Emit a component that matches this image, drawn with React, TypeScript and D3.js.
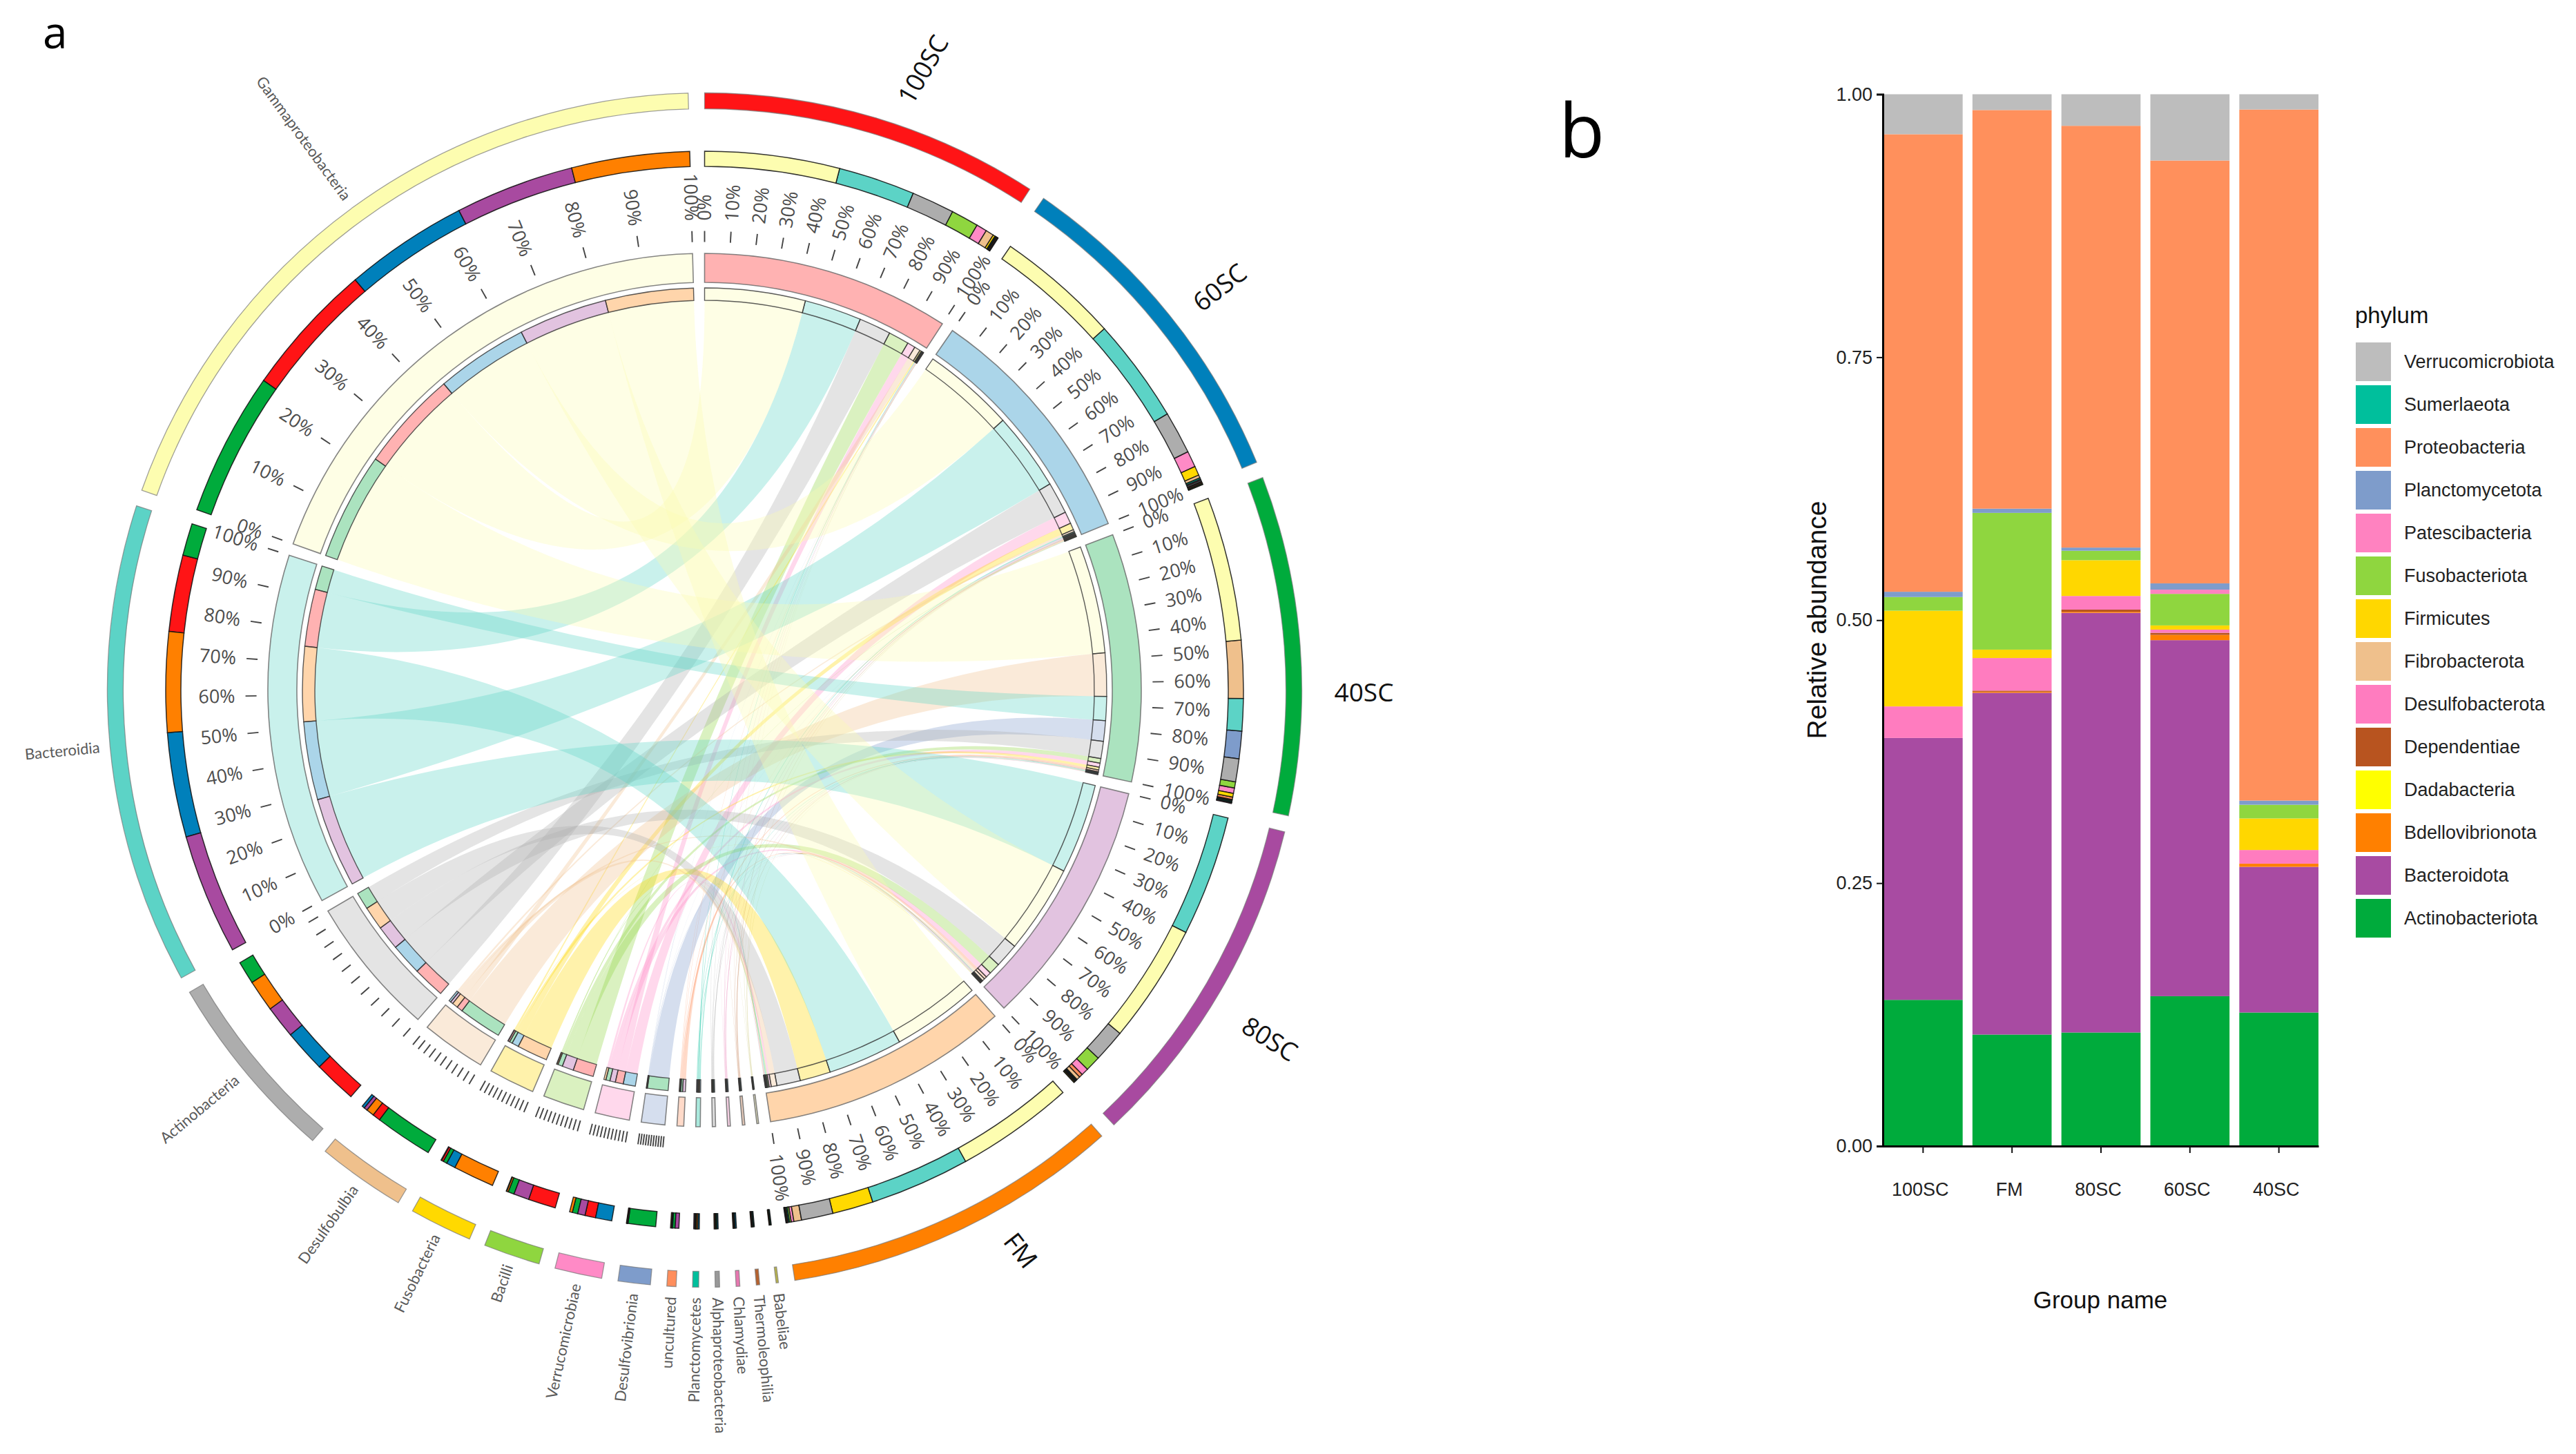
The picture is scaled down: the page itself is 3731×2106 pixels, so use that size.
import React, { useEffect, useRef } from 'react';
import * as d3 from 'd3';

// --- panel a: samples and classes, clockwise from the top
const samples = ['100SC', '60SC', '40SC', '80SC', 'FM'];
const sampleColors = ['#ff1416', '#0080bb', '#00ab3c', '#a84aa0', '#ff8000'];

const classes = [
  'Babeliae', 'Thermoleophilia', 'Chlamydiae', 'Alphaproteobacteria', 'Planctomycetes',
  'uncultured', 'Desulfovibrionia', 'Verrucomicrobiae', 'Bacilli', 'Fusobacteria',
  'Desulfobulbia', 'Actinobacteria', 'Bacteroidia', 'Gammaproteobacteria',
];
const classColors = [
  '#b8b34d', '#b5622f', '#e777b0', '#999999', '#00bf9c',
  '#ff8e5c', '#7e9ccb', '#ff8ac6', '#8fd63f', '#ffd900',
  '#efc08c', '#adadad', '#5cd3c6', '#fdfdb0',
];

// percent of each sample going to each class, same order as classes
const links100SC = [0.1, 0.1, 0.2, 0.2, 0.3, 0.2, 0.1, 3.5, 9.0, 0.7, 2.6, 14.0, 25.0, 44.0];
const links60SC = [0.2, 0.3, 0.4, 0.4, 0.5, 0.3, 0.1, 5.3, 0.2, 3.0, 0.9, 13.9, 34.2, 40.3];
const links40SC = [0.2, 0.3, 0.2, 0.3, 0.3, 0.8, 9.0, 1.8, 2.0, 1.2, 18.9, 7.5, 10.5, 47.0];
const links80SC = [0.1, 0.2, 0.2, 0.2, 0.3, 1.2, 0.2, 2.4, 5.0, 0.2, 1.1, 10.6, 39.4, 38.9];
const linksFM = [0.1, 0.1, 0.1, 0.2, 0.4, 0.2, 0.1, 0.9, 0.5, 13.4, 2.5, 10.3, 32.7, 38.5];
const sampleLinks = [links100SC, links60SC, links40SC, links80SC, linksFM];

const labelledClasses = ['Bacteroidia', 'Gammaproteobacteria'];
const tickedClasses = ['Desulfovibrionia', 'Verrucomicrobiae', 'Bacilli', 'Fusobacteria', 'Desulfobulbia', 'Actinobacteria', 'Bacteroidia', 'Gammaproteobacteria'];
const percentTicks = [0, 10, 20, 30, 40, 50, 60, 70, 80, 90, 100];

// --- panel b: stacked bars
const groups = ['100SC', 'FM', '80SC', '60SC', '40SC'];
const phyla = [
  'Actinobacteriota', 'Bacteroidota', 'Bdellovibrionota', 'Dadabacteria', 'Dependentiae',
  'Desulfobacterota', 'Fibrobacterota', 'Firmicutes', 'Fusobacteriota', 'Patescibacteria',
  'Planctomycetota', 'Proteobacteria', 'Sumerlaeota', 'Verrucomicrobiota',
];
const phylaColors = [
  '#00ab3c', '#a84ba2', '#ff8000', '#ffff00', '#b8541f',
  '#ff7cbf', '#efc08c', '#ffd700', '#8fd63f', '#ff82c0',
  '#7e9ccb', '#ff905c', '#00bf9c', '#bdbdbd',
];
const actinobacteriota = [0.139, 0.106, 0.108, 0.1425, 0.127];
const bacteroidota = [0.249, 0.325, 0.399, 0.3385, 0.1385];
const bdellovibrionota = [0, 0.001, 0.001, 0.005, 0.003];
const dadabacteria = [0, 0, 0, 0, 0];
const dependentiae = [0, 0.001, 0.002, 0.002, 0];
const desulfobacterota = [0.03, 0.031, 0.013, 0.003, 0.013];
const fibrobacterota = [0, 0, 0, 0, 0];
const firmicutes = [0.091, 0.008, 0.034, 0.004, 0.03];
const fusobacteriota = [0.013, 0.13, 0.009, 0.03, 0.013];
const patescibacteria = [0, 0, 0, 0.004, 0];
const planctomycetota = [0.005, 0.004, 0.003, 0.006, 0.004];
const proteobacteria = [0.435, 0.379, 0.401, 0.402, 0.657];
const sumerlaeota = [0, 0, 0, 0, 0];
const verrucomicrobiota = [0.038, 0.015, 0.03, 0.063, 0.0145];
const phylaValues = [
  actinobacteriota, bacteroidota, bdellovibrionota, dadabacteria, dependentiae,
  desulfobacterota, fibrobacterota, firmicutes, fusobacteriota, patescibacteria,
  planctomycetota, proteobacteria, sumerlaeota, verrucomicrobiota,
];
const yTicks = [0, 0.25, 0.5, 0.75, 1];

const WIDTH = 3731;
const HEIGHT = 2106;
const deg = Math.PI / 180;
const CX = 1020.5;
const CY = 999.5;
const LINK_ALPHA = 0.33;
const labelFont = "'Open Sans', sans-serif";
const classFont = "Lato, sans-serif";
const barFont = "'Liberation Sans', Arial, sans-serif";

// hand placed sample names, as in the figure: [angle, radius, rotation]
const sampleLabelSpots: Record<string, [number, number, number]> = {
  '100SC': [19.4, 953, -60],
  '60SC': [52, 947, -38],
  '40SC': [90.2, 955, 0],
  '80SC': [121.7, 962, 32],
  'FM': [150.6, 932, 52],
};

const names = [...samples, ...classes];
const colors = [...sampleColors, ...classColors];

// square matrix for d3.chord, samples against classes
const matrix = names.map((_, i) =>
  names.map((__, j) => {
    if (i < samples.length && j >= samples.length) return sampleLinks[i][j - samples.length];
    if (j < samples.length && i >= samples.length) return sampleLinks[j][i - samples.length];
    return 0;
  }),
);

const chordLayout = d3.chord().padAngle(1.58 * deg).sortSubgroups(d3.descending);
const chords = chordLayout(matrix);
const liveChords = chords.filter((c) => c.source.value > 0);

const arcPath = (r0: number, r1: number, a0: number, a1: number) =>
  d3.arc()({ innerRadius: r0, outerRadius: r1, startAngle: a0, endAngle: a1 } as any) as string;

const polar = (aDeg: number, r: number) => [
  r * Math.sin(aDeg * deg),
  -r * Math.cos(aDeg * deg),
];

const ChordPanel: React.FC = () => {
  const ribbon = d3.ribbon().radius(564.5);
  return (
    <g transform={`translate(${CX},${CY})`}>
      {/* links */}
      {liveChords.map((c, i) => (
        <path
          key={i}
          d={ribbon(c as any) as unknown as string}
          fill={colors[c.target.index]}
          fillOpacity={LINK_ALPHA}
        />
      ))}

      {/* sector tracks */}
      {chords.groups.map((g) => (
        <g key={g.index}>
          <path
            d={arcPath(842, 865, g.startAngle, g.endAngle)}
            fill={colors[g.index]}
            stroke="#777"
            strokeOpacity={0.7}
            strokeWidth={1.3}
          />
          <path
            d={arcPath(590.5, 632.5, g.startAngle, g.endAngle)}
            fill={colors[g.index]}
            fillOpacity={LINK_ALPHA}
            stroke="#666"
            strokeOpacity={0.8}
            strokeWidth={1.6}
          />
        </g>
      ))}

      {/* partner composition tracks */}
      {liveChords.flatMap((c, i) =>
        [
          { end: c.source, partner: c.target.index },
          { end: c.target, partner: c.source.index },
        ].map(({ end, partner }, k) => (
          <g key={`${i}-${k}`}>
            <path
              d={arcPath(758.5, 780.5, end.startAngle, end.endAngle)}
              fill={colors[partner]}
              stroke="#111"
              strokeOpacity={0.85}
              strokeWidth={1.5}
            />
            <path
              d={arcPath(564.5, 582.5, end.startAngle, end.endAngle)}
              fill={colors[partner]}
              fillOpacity={LINK_ALPHA}
              stroke="#333"
              strokeOpacity={0.8}
              strokeWidth={1.4}
            />
          </g>
        )),
      )}

      {/* percent ticks */}
      {chords.groups.map((g) => {
        const name = names[g.index];
        const isSample = g.index < samples.length;
        if (!isSample && !tickedClasses.includes(name)) return null;
        const withText = isSample || labelledClasses.includes(name);
        const scale = d3.scaleLinear().domain([0, 100]).range([g.startAngle / deg, g.endAngle / deg]);
        return percentTicks.map((t) => {
          const a = scale(t);
          const [x0, y0] = polar(a, 649);
          const [x1, y1] = polar(a, 665);
          const [tx, ty] = polar(a, 680);
          const left = a >= 180;
          return (
            <g key={`${g.index}-${t}`}>
              <line x1={x0} y1={y0} x2={x1} y2={y1} stroke="#444" strokeWidth={1.9} />
              {withText && (
                <text
                  transform={`translate(${tx},${ty}) rotate(${left ? a + 90 : a - 90})`}
                  textAnchor={left ? 'end' : 'start'}
                  dy="0.35em"
                  fontFamily={labelFont}
                  fontSize={27}
                  fill="#4d4d4d"
                >
                  {t}%
                </text>
              )}
            </g>
          );
        });
      })}

      {/* class names */}
      {chords.groups.filter((g) => g.index >= samples.length).map((g) => {
        const a = ((g.startAngle + g.endAngle) / 2) / deg;
        const [x, y] = polar(a, 880);
        const left = a >= 180;
        return (
          <text
            key={g.index}
            transform={`translate(${x},${y}) rotate(${left ? a + 90 : a - 90})`}
            textAnchor={left ? 'end' : 'start'}
            dy="0.35em"
            fontFamily={classFont}
            fontSize={22}
            fill="#5a5a5a"
          >
            {names[g.index]}
          </text>
        );
      })}

      {/* sample names */}
      {samples.map((s) => {
        const [a, r, rot] = sampleLabelSpots[s];
        const [x, y] = polar(a, r);
        return (
          <text
            key={s}
            transform={`translate(${x},${y}) rotate(${rot})`}
            textAnchor="middle"
            dy="0.35em"
            fontFamily={labelFont}
            fontSize={37}
            fill="#111"
          >
            {s}
          </text>
        );
      })}
    </g>
  );
};

const x = d3.scaleBand<string>().domain(groups).range([2728, 3358]).paddingInner(0.11);
const y = d3.scaleLinear().domain([0, 1]).range([1660, 136.5]);

const rows = groups.map((g, i) => {
  const row: Record<string, number> = {};
  phyla.forEach((p, k) => {
    row[p] = phylaValues[k][i];
  });
  return row;
});
const stacked = d3.stack<Record<string, number>>().keys(phyla)(rows);

const BarPanel: React.FC = () => {
  const xAxisRef = useRef<SVGGElement>(null);
  const yAxisRef = useRef<SVGGElement>(null);

  useEffect(() => {
    if (!xAxisRef.current || !yAxisRef.current) return;

    const xAxis = d3.axisBottom(x).tickSize(10).tickSizeOuter(0).tickPadding(43);
    const yAxis = d3.axisLeft(y).tickValues(yTicks).tickFormat(d3.format('.2f')).tickSize(9).tickPadding(6);

    const gx = d3.select(xAxisRef.current).call(xAxis as any);
    const gy = d3.select(yAxisRef.current).call(yAxis as any);

    [gx, gy].forEach((g) => {
      g.selectAll('text').style('font-family', barFont).style('font-size', '27px').style('fill', '#222');
      g.selectAll('line').style('stroke', '#111').style('stroke-width', '2');
      g.select('.domain').style('stroke', '#000').style('stroke-width', '3');
    });
    // the labels sit a little left of the ticks in the figure
    gx.selectAll('text').attr('dx', -4);
  }, []);

  return (
    <g>
      {stacked.map((layer, k) => (
        <g key={layer.key} fill={phylaColors[k]}>
          {layer.map((d, i) => (
            <rect
              key={groups[i]}
              x={x(groups[i])}
              y={y(d[1])}
              width={x.bandwidth()}
              height={Math.max(0, y(d[0]) - y(d[1]))}
            />
          ))}
        </g>
      ))}
      <g ref={xAxisRef} transform="translate(0,1660)" />
      <g ref={yAxisRef} transform="translate(2727,0)" />

      <text
        transform="translate(2631,898) rotate(-90)"
        textAnchor="middle"
        dy="0.35em"
        fontFamily={barFont}
        fontSize={39}
        fill="#111"
      >
        Relative abundance
      </text>
      <text x={3042} y={1895} textAnchor="middle" fontFamily={barFont} fontSize={35} fill="#111">
        Group name
      </text>

      <text x={3411} y={468} fontFamily={barFont} fontSize={33} fill="#111">
        phylum
      </text>
      {[...phyla].reverse().map((p, i) => (
        <g key={p} transform={`translate(3412,${496 + i * 62})`}>
          <rect width={51} height={56} fill={phylaColors[phyla.length - 1 - i]} />
          <text x={70} y={28} dy="0.35em" fontFamily={barFont} fontSize={27} fill="#222">
            {p}
          </text>
        </g>
      ))}
    </g>
  );
};

export default function App() {
  return (
    <svg
      width={WIDTH}
      height={HEIGHT}
      viewBox={`0 0 ${WIDTH} ${HEIGHT}`}
      style={{ position: 'absolute', left: 0, top: 0, display: 'block', background: '#fff' }}
    >
      <text x={62} y={70} fontFamily={labelFont} fontSize={64} fill="#000">a</text>
      <text x={2258} y={228} fontFamily={labelFont} fontSize={108} fill="#000">b</text>
      <ChordPanel />
      <BarPanel />
    </svg>
  );
}
